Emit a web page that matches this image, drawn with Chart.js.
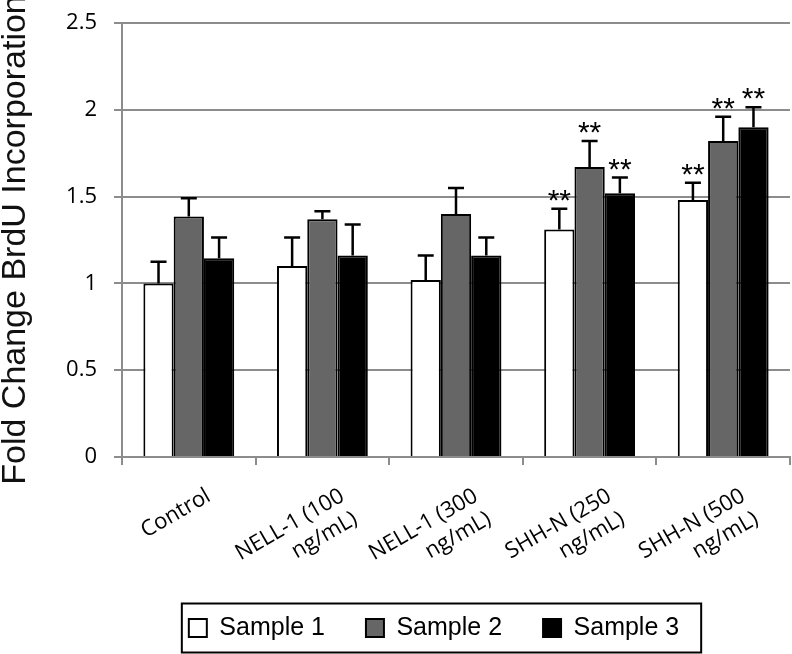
<!DOCTYPE html>
<html lang="en">
<head>
  <meta charset="UTF-8" />
  <title>Fold Change BrdU Incorporation</title>
  <script src="https://cdn.jsdelivr.net/npm/chart.js"></script>
  <style>
    body { margin: 0; background: #fff; }
    #wrap { width: 792px; height: 654px; }
  </style>
</head>
<body>
  <div id="wrap"><canvas id="chart"></canvas></div>

  <script>
    // categories and series
    const categories = ['Control', ['NELL-1 (100', 'ng/mL)'], ['NELL-1 (300', 'ng/mL)'],
                        ['SHH-N (250', 'ng/mL)'], ['SHH-N (500', 'ng/mL)']];
    const seriesNames = ['Sample 1', 'Sample 2', 'Sample 3'];
    const sample1 = [1.00, 1.10, 1.02, 1.31, 1.48];
    const sample2 = [1.385, 1.37, 1.40, 1.67, 1.82];
    const sample3 = [1.145, 1.16, 1.16, 1.52, 1.90];
    // upper error bar lengths
    const err1 = [0.125, 0.165, 0.14, 0.12, 0.10];
    const err2 = [0.105, 0.045, 0.15, 0.15, 0.14];
    const err3 = [0.12, 0.18, 0.105, 0.09, 0.115];
    // ** significance markers
    const sig1 = [false, false, false, true, true];
    const sig2 = [false, false, false, true, true];
    const sig3 = [false, false, false, true, true];
    const yTicks = [0, 0.5, 1, 1.5, 2, 2.5];

    const errors = [err1, err2, err3];
    const sigs = [sig1, sig2, sig3];
    const fills = ['#ffffff', '#666666', '#000000'];
    const gridColor = '#8c8c8c';

    // error bars + asterisks
    const errorBars = {
      id: 'errorBars',
      afterDatasetsDraw(chart) {
        const ctx = chart.ctx;
        const y = chart.scales.y;
        ctx.save();
        ctx.strokeStyle = '#000';
        ctx.lineWidth = 2.5;
        chart.data.datasets.forEach((ds, di) => {
          chart.getDatasetMeta(di).data.forEach((bar, i) => {
            const top = y.getPixelForValue(ds.data[i] + errors[di][i]);
            ctx.beginPath();
            ctx.moveTo(bar.x, bar.y);
            ctx.lineTo(bar.x, top);
            ctx.moveTo(bar.x - 8, top);
            ctx.lineTo(bar.x + 8, top);
            ctx.stroke();
            if (sigs[di][i]) {
              ctx.fillStyle = '#000';
              ctx.font = '30px "Liberation Sans", Arial, sans-serif';
              ctx.textAlign = 'center';
              ctx.textBaseline = 'alphabetic';
              ctx.fillText('**', bar.x, top + 1);
            }
          });
        });
        ctx.restore();
      }
    };

    // move legend left a bit and frame it
    const legendFrame = {
      id: 'legendFrame',
      afterLayout(chart) {
        chart.legend.left -= 22;
        chart.legend.right -= 22;
      },
      afterDraw(chart) {
        const hb = chart.legend.legendHitBoxes;
        if (!hb || !hb.length) return;
        const last = hb[hb.length - 1];
        const mid = hb[0].top + hb[0].height / 2;
        const left = hb[0].left - 7;
        const right = last.left + last.width + 22;
        const ctx = chart.ctx;
        ctx.save();
        ctx.strokeStyle = '#000';
        ctx.lineWidth = 2;
        ctx.strokeRect(left, mid - 24.5, right - left, 49);
        ctx.restore();
      }
    };

    new Chart(document.getElementById('chart'), {
      type: 'bar',
      data: {
        labels: categories,
        datasets: [sample1, sample2, sample3].map((d, i) => ({
          label: seriesNames[i],
          data: d,
          backgroundColor: fills[i],
          borderColor: '#000',
          borderWidth: 2,
          barPercentage: 1.0,
          categoryPercentage: 0.68
        }))
      },
      options: {
        responsive: true,
        maintainAspectRatio: false,
        animation: false,
        layout: { padding: { top: 23, right: 2, bottom: 3.5, left: 0 } },
        plugins: {
          legend: {
            position: 'bottom',
            fullSize: false,
            labels: {
              color: '#000',
              font: { family: '"Liberation Sans", Arial, sans-serif', size: 25 },
              boxWidth: 18,
              boxHeight: 18,
              padding: 41
            }
          },
          tooltip: { enabled: false }
        },
        scales: {
          x: {
            grid: {
              display: true,
              drawOnChartArea: false,
              color: gridColor,
              lineWidth: 2,
              tickLength: 8
            },
            border: { color: gridColor, width: 2 },
            ticks: {
              color: '#000',
              font: { family: '"Open Sans"', size: 22 },
              maxRotation: 30,
              minRotation: 30,
              padding: 18,
              labelOffset: 20,
              autoSkip: false
            },
            afterFit(scale) { scale.height = 117.5; }
          },
          y: {
            min: 0,
            max: 2.5,
            afterBuildTicks(scale) { scale.ticks = yTicks.map(v => ({ value: v })); },
            grid: { color: gridColor, lineWidth: 2, tickLength: 8 },
            border: { color: gridColor, width: 2 },
            ticks: {
              color: '#000',
              font: { family: '"Open Sans"', size: 22 },
              padding: 17,
              callback: v => String(v)
            },
            title: {
              display: true,
              text: 'Fold Change BrdU Incorporation',
              color: '#111',
              font: { family: '"Liberation Sans", Arial, sans-serif', size: 34, weight: 'normal' },
              padding: { top: -5, bottom: 0 }
            },
            afterFit(scale) {
              scale.width = 122;
              scale.paddingTop = 0;
              scale.paddingBottom = 0;
            }
          }
        }
      },
      plugins: [errorBars, legendFrame]
    });
  </script>
</body>
</html>
